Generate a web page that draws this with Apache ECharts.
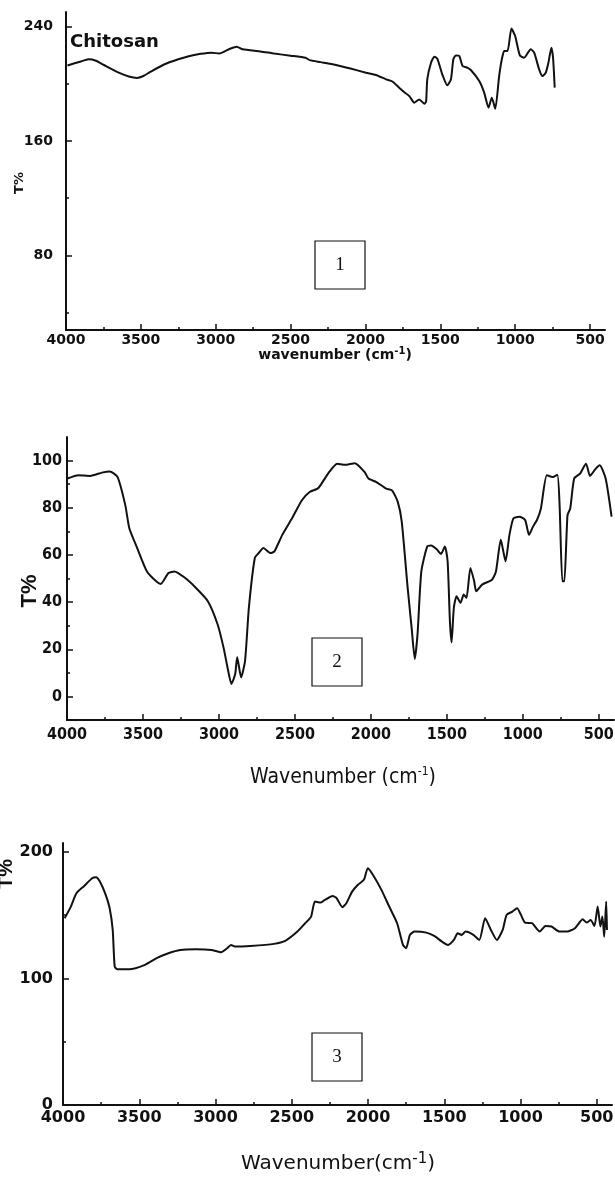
<!DOCTYPE html>
<html><head><meta charset="utf-8">
<script src="https://cdn.jsdelivr.net/npm/echarts@6.0.0/dist/echarts.min.js"></script>
<style>html,body{margin:0;padding:0;background:#fff}#c{width:615px;height:1184px}</style>
</head><body><div id="c"></div><script>
// ---- data ----
const xMajorTicks = [500,1000,1500,2000,2500,3000,3500,4000];
const xMinorTicks = [750,1250,1750,2250,2750,3250,3750];
const y1Major = [80,160,240], y1Minor = [40,120,200];
const y2Major = [0,20,40,60,80,100], y2Minor = [10,30,50,70,90];
const y3Major = [0,100,200], y3Minor = [50,150];

const chitosan = [[3990,212.7],[3900,215.5],[3850,217],[3800,216],[3747,213],[3656,208],[3580,205],[3526,204],[3480,205.5],[3440,208],[3342,213.5],[3250,217],[3187,219],[3100,220.8],[3027,221.6],[2976,221],[2940,222.5],[2900,224.5],[2860,225.8],[2820,224],[2700,222.5],[2610,221],[2500,219.5],[2400,218],[2373,216.4],[2300,215],[2220,213.5],[2100,210.5],[1996,207.6],[1930,206],[1862,203],[1820,201.5],[1773,197],[1740,194],[1707,191.3],[1673,186.7],[1640,189],[1607,186],[1595,187.5],[1587,203],[1562,214.6],[1540,218.8],[1520,217.4],[1487,206.5],[1453,198.8],[1429,203],[1413,217],[1396,219.7],[1373,219.3],[1351,212.3],[1318,211],[1296,209.5],[1240,201.8],[1207,193.7],[1178,183.2],[1156,190.2],[1133,182.5],[1107,205.3],[1089,217],[1073,222.7],[1051,222.7],[1025,238.4],[1000,233.2],[969,219.7],[940,218.1],[896,224],[873,221.6],[840,210],[818,205.3],[796,207.6],[778,214.6],[758,225.1],[747,218.1],[736,197.2]];

const sample2 = [[3997,92.4],[3925,93.8],[3847,93.5],[3770,94.9],[3719,95.4],[3667,93],[3616,81],[3590,71.3],[3538,62.9],[3474,53],[3409,48.6],[3383,47.7],[3332,52.3],[3293,53],[3228,50.5],[3151,46],[3073,40.4],[3009,30.6],[2970,20.8],[2944,12.4],[2918,5.3],[2893,9.5],[2880,16.6],[2854,8.1],[2828,15.2],[2803,37.6],[2764,58.7],[2738,60.8],[2707,62.9],[2661,60.8],[2635,61.5],[2583,68.5],[2519,75.5],[2454,83.2],[2403,86.7],[2351,88.1],[2325,90.2],[2274,95.2],[2222,98.7],[2171,98.2],[2106,98.9],[2042,95.2],[2016,92.4],[1964,90.9],[1900,88.1],[1861,87.4],[1823,82.5],[1797,74.1],[1758,46],[1732,29.2],[1711,15.9],[1693,26.4],[1668,53],[1629,63.6],[1603,64],[1564,62.2],[1539,60.4],[1513,63.6],[1495,57.3],[1480,32],[1469,22.9],[1454,37.6],[1436,42.5],[1410,39.7],[1389,43.2],[1371,41.8],[1345,54.5],[1320,48.8],[1307,44.6],[1268,47.4],[1203,49.5],[1177,53],[1145,66.4],[1114,57.3],[1088,68.5],[1062,75.5],[1023,76.2],[985,74.8],[959,68.5],[933,72],[907,74.8],[881,79.7],[842,93.8],[804,93],[773,94],[758,81],[740,48.8],[727,48.8],[706,76.9],[688,79.7],[662,92.4],[623,94.5],[584,98.7],[558,93.5],[520,96.6],[494,98],[455,92.4],[416,76.2]];

const sample3 = [[3989,147.6],[3950,156.3],[3912,167.3],[3861,173.1],[3809,179.2],[3784,180],[3758,176.5],[3720,166],[3694,155.5],[3674,138.3],[3661,109.4],[3643,107.2],[3566,107.2],[3463,110.7],[3386,116],[3309,119.9],[3232,122.5],[3130,123],[3027,122.5],[2963,120.7],[2924,123.8],[2899,126.5],[2873,125.2],[2771,125.7],[2617,127.3],[2540,129.9],[2463,137],[2412,143.6],[2373,148.9],[2348,160.7],[2309,160],[2283,162],[2232,165.2],[2206,163.4],[2168,156.3],[2142,159.4],[2104,168.6],[2066,174],[2027,177.9],[2001,187.1],[1963,181],[1912,170],[1861,156.8],[1809,143.6],[1771,126.5],[1750,123.8],[1725,134.4],[1694,137],[1617,136.2],[1566,133.6],[1515,129.1],[1475,126.5],[1437,130.4],[1412,135.7],[1386,134.4],[1360,137],[1309,134.4],[1270,130.4],[1232,147.6],[1194,138.3],[1155,130.4],[1117,138.3],[1091,150.2],[1053,152.8],[1022,155.5],[997,150.2],[971,144.1],[925,143.6],[874,137],[836,141.5],[797,141],[745,137],[694,137],[643,139.7],[592,146.8],[566,144.1],[540,146.2],[515,141.5],[494,156.8],[476,141],[463,148.9],[451,133],[438,160.7],[433,138.3]];

// ---- styles ----
const BLACK = '#111';
const boldWide = 'DejaVu Sans';
const narrow = "'Liberation Sans Narrow','DejaVu Sans Condensed','Liberation Sans',sans-serif";
const plain = function (v) { return String(v); };

function xAxes(grid, font, size, weight, margin) {
  return [
    { gridIndex: grid, type: 'value', position: 'bottom', min: 400, max: 4000, inverse: true,
      axisLine: { show: true, onZero: false, lineStyle: { color: BLACK, width: 2 } },
      splitLine: { show: false },
      axisTick: { show: true, inside: true, length: 6, lineStyle: { color: BLACK, width: 1.5 }, customValues: xMajorTicks },
      axisLabel: { show: true, customValues: xMajorTicks, formatter: plain, margin: margin, color: BLACK,
        fontFamily: font, fontSize: size, fontWeight: weight } },
    { gridIndex: grid, type: 'value', position: 'bottom', offset: 0, min: 400, max: 4000, inverse: true,
      axisLine: { show: false, onZero: false }, splitLine: { show: false }, axisLabel: { show: false },
      axisTick: { show: true, inside: true, length: 3, lineStyle: { color: BLACK, width: 1.5 }, customValues: xMinorTicks } }
  ];
}
function yAxes(grid, min, max, major, minor, font, size, weight, margin) {
  return [
    { gridIndex: grid, type: 'value', position: 'left', min: min, max: max,
      axisLine: { show: true, onZero: false, lineStyle: { color: BLACK, width: 2 } },
      splitLine: { show: false },
      axisTick: { show: true, inside: true, length: 6, lineStyle: { color: BLACK, width: 1.5 }, customValues: major },
      axisLabel: { show: true, customValues: major, formatter: plain, margin: margin, color: BLACK,
        fontFamily: font, fontSize: size, fontWeight: weight } },
    { gridIndex: grid, type: 'value', position: 'left', offset: 0, min: min, max: max,
      axisLine: { show: false, onZero: false }, splitLine: { show: false }, axisLabel: { show: false },
      axisTick: { show: true, inside: true, length: 3, lineStyle: { color: BLACK, width: 1.5 }, customValues: minor } }
  ];
}

const xAxis = [].concat(
  xAxes(0, boldWide, 14, 'bold', 3),
  xAxes(1, narrow, 16, 'bold', 7),
  xAxes(2, boldWide, 16, 'bold', 5)
);
const yAxis = [].concat(
  yAxes(0, 28, 250, y1Major, y1Minor, boldWide, 14, 'bold', 13),
  yAxes(1, -10, 110, y2Major, y2Minor, narrow, 16, 'bold', 5),
  yAxes(2, 0, 207, y3Major, y3Minor, boldWide, 16, 'bold', 10)
);

function lineSeries(idx, data) {
  return { type: 'line', xAxisIndex: idx * 2, yAxisIndex: idx * 2, data: data,
    showSymbol: false, smooth: 0.2, silent: true,
    lineStyle: { color: BLACK, width: 2 } };
}

function box(x, y, label) {
  return [
    { type: 'rect', shape: { x: x, y: y, width: 50, height: 48 }, style: { fill: 'none', stroke: BLACK, lineWidth: 1.2 } },
    { type: 'text', x: x + 25, y: y + 24, style: { text: label, fill: BLACK, font: '19px "Liberation Serif", serif', align: 'center', verticalAlign: 'middle' } }
  ];
}
function title(x, y, main, font, size, weight, supSize) {
  return { type: 'text', x: x, y: y, style: {
    text: '{a|' + main + '}{s|-1}{a|)}', align: 'center', verticalAlign: 'middle', fill: BLACK,
    rich: {
      a: { fontFamily: font, fontSize: size, fontWeight: weight, fill: BLACK, lineHeight: size + 4 },
      s: { fontFamily: font, fontSize: supSize, fontWeight: weight, fill: BLACK, verticalAlign: 'top', lineHeight: supSize }
    } } };
}
function vtext(x, y, text, font, size, weight) {
  return { type: 'text', x: x, y: y, rotation: Math.PI / 2, style: { text: text, fill: BLACK,
    font: weight + ' ' + size + 'px ' + font, align: 'center', verticalAlign: 'middle' } };
}

const graphic = [].concat(
  box(315, 241, '1'), box(312, 638, '2'), box(312, 1033, '3'),
  [
    { type: 'text', x: 70, y: 42, style: { text: 'Chitosan', fill: BLACK, font: 'bold 18px "DejaVu Sans"', align: 'left', verticalAlign: 'middle' } },
    title(335, 355, 'wavenumber (cm', '"DejaVu Sans"', 14, 'bold', 10),
    title(343, 778, 'Wavenumber (cm', narrow, 21, 'normal', 12),
    title(338, 1164, 'Wavenumber(cm', '"DejaVu Sans"', 20, 'normal', 15),
    vtext(20, 183, 'T%', '"DejaVu Sans"', 13, 'bold'),
    vtext(30, 591, 'T%', '"Liberation Sans"', 22, 'bold'),
    vtext(6, 874, 'T%', '"Liberation Sans"', 20, 'bold')
  ]
);

const chart = echarts.init(document.getElementById('c'), null, { renderer: 'canvas' });
chart.setOption({
  backgroundColor: '#fff',
  animation: false,
  grid: [
    { left: 66, top: 12, width: 539, height: 318, outerBoundsMode: 'none', containLabel: false },
    { left: 67, top: 437, width: 547, height: 283, outerBoundsMode: 'none', containLabel: false },
    { left: 63, top: 843, width: 549, height: 262, outerBoundsMode: 'none', containLabel: false }
  ],
  xAxis: xAxis,
  yAxis: yAxis,
  series: [lineSeries(0, chitosan), lineSeries(1, sample2), lineSeries(2, sample3)],
  graphic: graphic
});
</script></body></html>
